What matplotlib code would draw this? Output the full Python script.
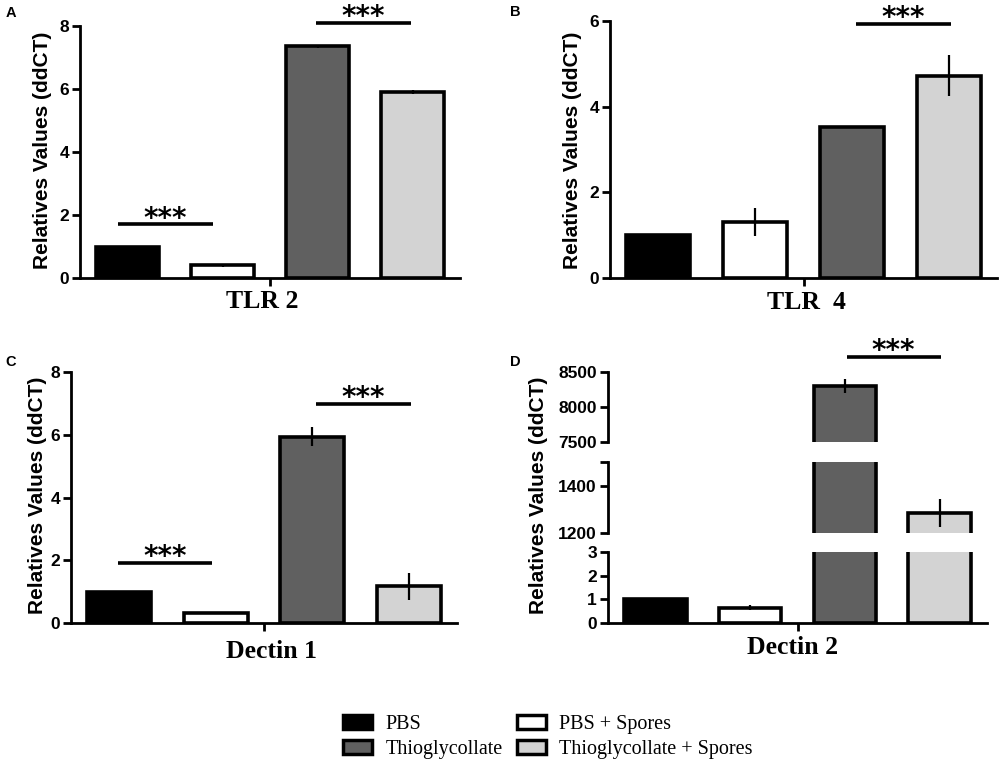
import matplotlib
matplotlib.use('Agg')
import matplotlib.pyplot as plt
from matplotlib.patches import Patch

# ---------------- data ----------------
groups = ['PBS', 'PBS + Spores', 'Thioglycollate', 'Thioglycollate + Spores']
colors = ['#000000', '#ffffff', '#606060', '#d3d3d3']
positions = [0.5, 1.5, 2.5, 3.5]

tlr2 = [1.0, 0.41, 7.36, 5.90]
tlr2_err = [0.0, 0.05, 0.05, 0.06]
tlr4 = [1.0, 1.31, 3.52, 4.72]
tlr4_err = [0.0, 0.32, 0.02, 0.48]
dectin1 = [1.0, 0.33, 5.94, 1.17]
dectin1_err = [0.0, 0.02, 0.30, 0.43]
dectin2 = [1.0, 0.65, 8300, 1285]
dectin2_err = [0.0, 0.10, 100, 60]

ylabel = 'Relatives Values (ddCT)'
panel_titles = ['TLR 2', 'TLR  4', 'Dectin 1', 'Dectin 2']
panel_letters = ['A', 'B', 'C', 'D']

ticks_A = [0, 2, 4, 6, 8]
ticks_B = [0, 2, 4, 6]
ticks_C = [0, 2, 4, 6, 8]
ticks_D_low = [0, 1, 2, 3]
ticks_D_mid = [1200, 1400, 1500]
ticklabels_D_mid = ['1200', '1400', '']
ticks_D_top = [7500, 8000, 8500]

# significance bars: (x0, x1, y)
sig_A = [(0.40, 1.40, 1.70), (2.48, 3.48, 8.10)]
sig_B = [(2.54, 3.52, 5.93)]
sig_C = [(0.49, 1.46, 1.91), (2.54, 3.52, 6.97)]
sig_D = [(2.52, 3.51, 8714)]

# ---------------- style ----------------
plt.rcParams['font.family'] = ['Liberation Sans', 'DejaVu Sans']
plt.rcParams['font.weight'] = 'bold'

W, H = 1000, 767
fig = plt.figure(figsize=(W / 100, H / 100), dpi=100)


def rect(l, t, r, b):
    return [l / W, (H - b) / H, (r - l) / W, (b - t) / H]


def style(ax, yticks, yticklabels=None, xaxis=True):
    ax.spines['top'].set_visible(False)
    ax.spines['right'].set_visible(False)
    ax.spines['left'].set_linewidth(2)
    ax.set_xlim(0, 4)
    if xaxis:
        ax.spines['bottom'].set_linewidth(2)
        ax.set_xticks([2])
        ax.set_xticklabels([''])
        ax.tick_params(axis='x', direction='out', length=6, width=2)
    else:
        ax.spines['bottom'].set_visible(False)
        ax.tick_params(axis='x', bottom=False, labelbottom=False)
    ax.set_yticks(yticks)
    if yticklabels is not None:
        ax.set_yticklabels(yticklabels)
    ax.tick_params(axis='y', direction='out', length=6, width=2, pad=2,
                   labelsize=12.5)
    for lbl in ax.get_yticklabels():
        lbl.set_fontweight('bold')
    ax.set_facecolor('none')


def bars(ax, vals, errs):
    ax.bar(positions, vals, width=0.66, color=colors, edgecolor='black',
           linewidth=2.6, zorder=2)
    ax.errorbar(positions, vals, yerr=errs, fmt='none', ecolor='black',
                elinewidth=1.6, capsize=0, zorder=3)


def sig(ax, items):
    for x0, x1, y in items:
        ax.plot([x0, x1], [y, y], color='black', lw=2.6, clip_on=False,
                solid_capstyle='butt', zorder=4)
        ax.annotate('***', xy=((x0 + x1) / 2, y), xytext=(0, -1.5),
                    textcoords='offset points', ha='center', va='baseline',
                    fontsize=20, fontfamily='DejaVu Sans', fontweight='bold',
                    annotation_clip=False)


# Panel A
axA = fig.add_axes(rect(80, 26, 460, 278))
bars(axA, tlr2, tlr2_err)
axA.set_ylim(0, 8)
style(axA, ticks_A)
sig(axA, sig_A)

# Panel B
axB = fig.add_axes(rect(610, 21, 997, 278))
bars(axB, tlr4, tlr4_err)
axB.set_ylim(0, 6)
style(axB, ticks_B)
sig(axB, sig_B)

# Panel C
axC = fig.add_axes(rect(71, 372, 457, 623))
bars(axC, dectin1, dectin1_err)
axC.set_ylim(0, 8)
style(axC, ticks_C)
sig(axC, sig_C)

# Panel D (broken axis)
axD1 = fig.add_axes(rect(608, 552, 987, 623))
axD2 = fig.add_axes(rect(608, 462, 987, 533))
axD3 = fig.add_axes(rect(608, 372, 987, 442))
for ax, lim in ((axD1, (0, 3)), (axD2, (1200, 1500)), (axD3, (7500, 8500))):
    bars(ax, dectin2, dectin2_err)
    ax.set_ylim(*lim)
style(axD1, ticks_D_low)
style(axD2, ticks_D_mid, ticklabels_D_mid, xaxis=False)
style(axD3, ticks_D_top, xaxis=False)
sig(axD3, sig_D)

# y labels
for (x, y) in ((43, 150), (572, 150), (38, 495), (539, 495)):
    fig.text(x / W, 1 - y / H, ylabel, rotation=90, ha='center', va='center',
             fontsize=15, fontweight='bold')

# x labels (panel titles)
for (x, y), t in zip(((262, 302), (806, 303), (272, 652), (793, 648)),
                     panel_titles):
    fig.text(x / W, 1 - y / H, t, ha='center', va='center', fontsize=18.5,
             fontweight='bold', fontfamily='Liberation Serif')

# panel letters
for (x, y), t in zip(((11, 13), (515, 12), (11, 362), (515, 362)),
                     panel_letters):
    fig.text(x / W, 1 - y / H, t, ha='center', va='center', fontsize=10.5,
             fontweight='bold')

# legend
handles = [Patch(facecolor=c, edgecolor='black', linewidth=2.5, label=g)
           for c, g in zip(colors, groups)]
order = [0, 2, 1, 3]
fig.legend([handles[i] for i in order], [groups[i] for i in order],
           ncol=2, loc='upper left', bbox_to_anchor=(343 / W, 1 - 715 / H),
           frameon=False, borderpad=0, borderaxespad=0,
           prop={'family': 'Liberation Serif', 'weight': 'normal',
                 'size': 14.5},
           handlelength=1.45, handleheight=0.65, handletextpad=0.65,
           columnspacing=0.7, labelspacing=0.3)

fig.savefig('out.png', dpi=100)
